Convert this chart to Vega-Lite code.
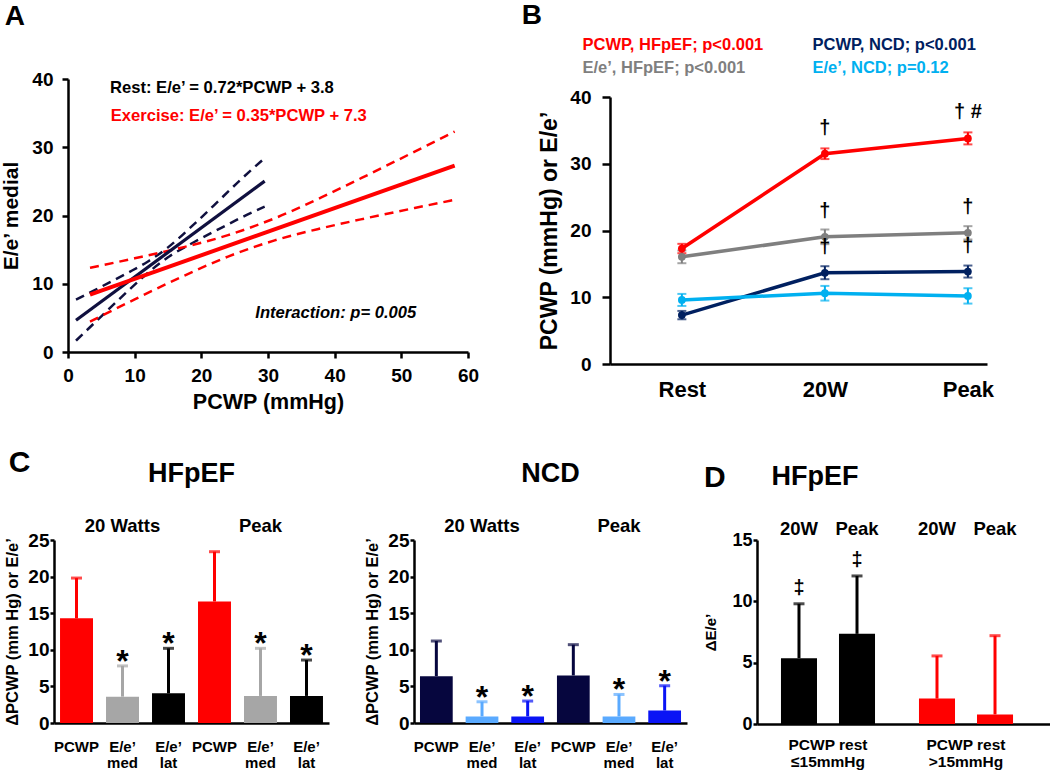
{
  "$schema": "https://vega.github.io/schema/vega-lite/v6.json",
  "background": "white",
  "padding": {"left": 0, "top": 2, "right": 0, "bottom": 0},
  "config": {
    "view": {"stroke": null},
    "font": "Liberation Sans",
    "axis": {"grid": false, "domainColor": "black", "tickColor": "black", "labelColor": "black", "titleColor": "black", "labelFont": "Liberation Sans", "titleFont": "Liberation Sans", "labelFontWeight": "bold", "titleFontWeight": "bold", "domainWidth": 2.5, "tickWidth": 2.5, "tickSize": 6, "labelOverlap": false, "labelFlush": false},
    "title": {"font": "Liberation Sans", "fontWeight": "bold", "fontSize": 30, "color": "black", "anchor": "start", "frame": "bounds"},
    "text": {"font": "Liberation Sans", "fontWeight": "bold"}
  },
  "datasets": {
    "panelA": [
      {"group": "Rest", "curve": "regression", "pcwp": 1.2, "ee": 4.66},
      {"group": "Rest", "curve": "regression", "pcwp": 29.5, "ee": 25.04},
      {"group": "Rest", "curve": "upper 95% CI", "pcwp": 1.2, "ee": 7.66},
      {"group": "Rest", "curve": "upper 95% CI", "pcwp": 5, "ee": 9.57},
      {"group": "Rest", "curve": "upper 95% CI", "pcwp": 9, "ee": 11.61},
      {"group": "Rest", "curve": "upper 95% CI", "pcwp": 12, "ee": 13.27},
      {"group": "Rest", "curve": "upper 95% CI", "pcwp": 15, "ee": 15.33},
      {"group": "Rest", "curve": "upper 95% CI", "pcwp": 19, "ee": 18.81},
      {"group": "Rest", "curve": "upper 95% CI", "pcwp": 23, "ee": 22.53},
      {"group": "Rest", "curve": "upper 95% CI", "pcwp": 26, "ee": 25.34},
      {"group": "Rest", "curve": "upper 95% CI", "pcwp": 29.5, "ee": 28.4},
      {"group": "Rest", "curve": "lower 95% CI", "pcwp": 1.2, "ee": 1.66},
      {"group": "Rest", "curve": "lower 95% CI", "pcwp": 5, "ee": 5.23},
      {"group": "Rest", "curve": "lower 95% CI", "pcwp": 9, "ee": 8.95},
      {"group": "Rest", "curve": "lower 95% CI", "pcwp": 12, "ee": 11.61},
      {"group": "Rest", "curve": "lower 95% CI", "pcwp": 15, "ee": 13.87},
      {"group": "Rest", "curve": "lower 95% CI", "pcwp": 19, "ee": 16.15},
      {"group": "Rest", "curve": "lower 95% CI", "pcwp": 23, "ee": 18.19},
      {"group": "Rest", "curve": "lower 95% CI", "pcwp": 26, "ee": 19.7},
      {"group": "Rest", "curve": "lower 95% CI", "pcwp": 29.5, "ee": 21.3},
      {"group": "Exercise", "curve": "regression", "pcwp": 3.3, "ee": 8.4},
      {"group": "Exercise", "curve": "regression", "pcwp": 58, "ee": 27.3},
      {"group": "Exercise", "curve": "upper 95% CI", "pcwp": 3.3, "ee": 12.34},
      {"group": "Exercise", "curve": "upper 95% CI", "pcwp": 10, "ee": 13.73},
      {"group": "Exercise", "curve": "upper 95% CI", "pcwp": 17, "ee": 15.28},
      {"group": "Exercise", "curve": "upper 95% CI", "pcwp": 24, "ee": 17.12},
      {"group": "Exercise", "curve": "upper 95% CI", "pcwp": 31, "ee": 19.59},
      {"group": "Exercise", "curve": "upper 95% CI", "pcwp": 38, "ee": 22.65},
      {"group": "Exercise", "curve": "upper 95% CI", "pcwp": 45, "ee": 25.96},
      {"group": "Exercise", "curve": "upper 95% CI", "pcwp": 52, "ee": 29.36},
      {"group": "Exercise", "curve": "upper 95% CI", "pcwp": 58, "ee": 32.3},
      {"group": "Exercise", "curve": "lower 95% CI", "pcwp": 3.3, "ee": 4.46},
      {"group": "Exercise", "curve": "lower 95% CI", "pcwp": 10, "ee": 7.71},
      {"group": "Exercise", "curve": "lower 95% CI", "pcwp": 17, "ee": 10.98},
      {"group": "Exercise", "curve": "lower 95% CI", "pcwp": 24, "ee": 13.98},
      {"group": "Exercise", "curve": "lower 95% CI", "pcwp": 31, "ee": 16.35},
      {"group": "Exercise", "curve": "lower 95% CI", "pcwp": 38, "ee": 18.13},
      {"group": "Exercise", "curve": "lower 95% CI", "pcwp": 45, "ee": 19.66},
      {"group": "Exercise", "curve": "lower 95% CI", "pcwp": 52, "ee": 21.1},
      {"group": "Exercise", "curve": "lower 95% CI", "pcwp": 58, "ee": 22.3}
    ],
    "panelB": [
      {"series": "PCWP, HFpEF; p<0.001", "stage": "Rest", "mean": 17.3, "lo": 16.6, "hi": 18.0, "sig": ""},
      {"series": "PCWP, HFpEF; p<0.001", "stage": "20W", "mean": 31.5, "lo": 30.7, "hi": 32.3, "sig": "†"},
      {"series": "PCWP, HFpEF; p<0.001", "stage": "Peak", "mean": 33.8, "lo": 32.9, "hi": 34.7, "sig": "†   #"},
      {"series": "E/e’, HFpEF; p<0.001", "stage": "Rest", "mean": 16.06, "lo": 15.1, "hi": 17.0, "sig": ""},
      {"series": "E/e’, HFpEF; p<0.001", "stage": "20W", "mean": 19.05, "lo": 17.95, "hi": 20.15, "sig": "†"},
      {"series": "E/e’, HFpEF; p<0.001", "stage": "Peak", "mean": 19.65, "lo": 18.65, "hi": 20.65, "sig": "†"},
      {"series": "PCWP, NCD; p<0.001", "stage": "Rest", "mean": 7.33, "lo": 6.7, "hi": 7.95, "sig": ""},
      {"series": "PCWP, NCD; p<0.001", "stage": "20W", "mean": 13.67, "lo": 12.7, "hi": 14.65, "sig": "†"},
      {"series": "PCWP, NCD; p<0.001", "stage": "Peak", "mean": 13.85, "lo": 12.95, "hi": 14.75, "sig": "†"},
      {"series": "E/e’, NCD; p=0.12", "stage": "Rest", "mean": 9.6, "lo": 8.7, "hi": 10.5, "sig": ""},
      {"series": "E/e’, NCD; p=0.12", "stage": "20W", "mean": 10.6, "lo": 9.5, "hi": 11.7, "sig": ""},
      {"series": "E/e’, NCD; p=0.12", "stage": "Peak", "mean": 10.2, "lo": 9.05, "hi": 11.35, "sig": ""}
    ],
    "panelC_HFpEF": [
      {"bar": "20 Watts|PCWP", "measure": "PCWP", "value": 14.3, "hi": 19.8, "sig": ""},
      {"bar": "20 Watts|E/e’ med", "measure": "E/e’ med", "value": 3.6, "hi": 7.8, "sig": "*"},
      {"bar": "20 Watts|E/e’ lat", "measure": "E/e’ lat", "value": 4.05, "hi": 10.2, "sig": "*"},
      {"bar": "Peak|PCWP", "measure": "PCWP", "value": 16.6, "hi": 23.4, "sig": ""},
      {"bar": "Peak|E/e’ med", "measure": "E/e’ med", "value": 3.7, "hi": 10.2, "sig": "*"},
      {"bar": "Peak|E/e’ lat", "measure": "E/e’ lat", "value": 3.7, "hi": 8.6, "sig": "*"}
    ],
    "panelC_NCD": [
      {"bar": "20 Watts|PCWP", "measure": "PCWP", "value": 6.4, "hi": 11.2, "sig": ""},
      {"bar": "20 Watts|E/e’ med", "measure": "E/e’ med", "value": 0.9, "hi": 2.9, "sig": "*"},
      {"bar": "20 Watts|E/e’ lat", "measure": "E/e’ lat", "value": 0.9, "hi": 3.0, "sig": "*"},
      {"bar": "Peak|PCWP", "measure": "PCWP", "value": 6.5, "hi": 10.7, "sig": ""},
      {"bar": "Peak|E/e’ med", "measure": "E/e’ med", "value": 0.9, "hi": 3.9, "sig": "*"},
      {"bar": "Peak|E/e’ lat", "measure": "E/e’ lat", "value": 1.7, "hi": 5.1, "sig": "*"}
    ],
    "panelD": [
      {"group": "PCWP rest|≤15mmHg", "time": "20W", "value": 5.37, "hi": 9.8, "sig": "‡"},
      {"group": "PCWP rest|≤15mmHg", "time": "Peak", "value": 7.35, "hi": 12.07, "sig": "‡"},
      {"group": "PCWP rest|>15mmHg", "time": "20W", "value": 2.07, "hi": 5.55, "sig": ""},
      {"group": "PCWP rest|>15mmHg", "time": "Peak", "value": 0.78, "hi": 7.2, "sig": ""}
    ]
  },
  "resolve": {"scale": {"x": "independent", "y": "independent", "color": "independent"}, "legend": {"color": "independent"}},
  "spacing": 35,
  "vconcat": [
    {
      "spacing": 42,
      "resolve": {"scale": {"x": "independent", "y": "independent", "color": "independent"}, "legend": {"color": "independent"}},
      "hconcat": [
        {
          "width": 414,
          "height": 273,
          "title": {"text": "A", "offset": 39, "dx": 4, "fontSize": 28},
          "layer": [
            {
              "data": {"name": "panelA"},
              "transform": [{"filter": "datum.curve !== 'regression'"}],
              "mark": {"type": "line", "strokeWidth": 2.5, "strokeDash": [9, 6], "interpolate": "monotone"},
              "encoding": {
                "x": {"field": "pcwp", "type": "quantitative", "title": "PCWP (mmHg)", "scale": {"domain": [0, 60], "rangeMin": 14, "nice": false}, "axis": {"values": [0, 10, 20, 30, 40, 50, 60], "labelFontSize": 19, "titleFontSize": 21.5, "labelPadding": 8, "titlePadding": 6}},
                "y": {"field": "ee", "type": "quantitative", "title": "E/e’ medial", "scale": {"domain": [0, 40], "nice": false}, "axis": {"values": [0, 10, 20, 30, 40], "offset": -14, "labelFontSize": 19, "titleFontSize": 21, "labelPadding": 9, "titlePadding": 10}},
                "color": {"field": "group", "type": "nominal", "scale": {"domain": ["Rest", "Exercise"], "range": ["#10103f", "#ff0000"]}, "legend": null},
                "detail": {"field": "curve"}
              }
            },
            {
              "data": {"name": "panelA"},
              "transform": [{"filter": "datum.curve === 'regression' && datum.group === 'Rest'"}],
              "mark": {"type": "line", "strokeWidth": 3.2},
              "encoding": {
                "x": {"field": "pcwp", "type": "quantitative"},
                "y": {"field": "ee", "type": "quantitative"},
                "color": {"field": "group", "type": "nominal", "legend": null}
              }
            },
            {
              "data": {"name": "panelA"},
              "transform": [{"filter": "datum.curve === 'regression' && datum.group === 'Exercise'"}],
              "mark": {"type": "line", "strokeWidth": 4},
              "encoding": {
                "x": {"field": "pcwp", "type": "quantitative"},
                "y": {"field": "ee", "type": "quantitative"},
                "color": {"field": "group", "type": "nominal", "legend": null}
              }
            },
            {
              "data": {"values": [{}]},
              "mark": {"type": "text", "text": "Rest: E/e’ = 0.72*PCWP + 3.8", "align": "left", "baseline": "middle", "fontSize": 16.6, "color": "black"},
              "encoding": {"x": {"datum": 6.3}, "y": {"datum": 38.7}}
            },
            {
              "data": {"values": [{}]},
              "mark": {"type": "text", "text": "Exercise: E/e’ = 0.35*PCWP + 7.3", "align": "left", "baseline": "middle", "fontSize": 16.6, "color": "#ff0000"},
              "encoding": {"x": {"datum": 6.4}, "y": {"datum": 34.6}}
            },
            {
              "data": {"values": [{}]},
              "mark": {"type": "text", "text": "Interaction: p= 0.005", "align": "left", "baseline": "middle", "fontSize": 16.6, "fontStyle": "italic", "color": "black"},
              "encoding": {"x": {"datum": 28.1}, "y": {"datum": 5.7}}
            }
          ]
        },
        {
          "width": 377,
          "height": 285,
          "title": {"text": "B", "offset": 7, "dx": -17, "fontSize": 28},
          "data": {"name": "panelB"},
          "encoding": {
            "x": {"field": "stage", "type": "nominal", "title": null, "scale": {"type": "point", "domain": ["Rest", "20W", "Peak"], "padding": 0.318, "align": 0.79}, "axis": {"labelAngle": 0, "labelFontSize": 22, "ticks": false, "labelPadding": 15.5}},
            "color": {
              "field": "series", "type": "nominal",
              "scale": {"domain": ["PCWP, HFpEF; p<0.001", "E/e’, HFpEF; p<0.001", "PCWP, NCD; p<0.001", "E/e’, NCD; p=0.12"], "range": ["#ff0000", "#7f7f7f", "#002060", "#00b0f0"]},
              "legend": {
                "title": null, "orient": "none", "legendX": -44, "legendY": -42, "columns": 2, "columnPadding": 32, "rowPadding": 6,
                "symbolSize": 0, "symbolOpacity": 0, "symbolStrokeWidth": 0, "labelOffset": 0, "labelFontSize": 16.5, "labelFont": "Liberation Sans", "labelFontWeight": "bold", "labelLimit": 400,
                "encode": {"labels": {"update": {"fill": {"signal": "datum.value == 'PCWP, HFpEF; p<0.001' ? '#ff0000' : datum.value == 'PCWP, NCD; p<0.001' ? '#002060' : datum.value == 'E/e’, HFpEF; p<0.001' ? '#7f7f7f' : '#00b0f0'"}}}}
              }
            }
          },
          "layer": [
            {
              "mark": {"type": "line", "strokeWidth": 3.5},
              "encoding": {"y": {"field": "mean", "type": "quantitative", "title": "PCWP (mmHg) or E/e’", "scale": {"domain": [0, 40], "nice": false, "rangeMax": 18}, "axis": {"values": [0, 10, 20, 30, 40], "labelFontSize": 19, "titleFontSize": 23, "tickSize": 8, "labelPadding": 11, "titlePadding": 8}}}
            },
            {
              "mark": {"type": "rule", "strokeWidth": 2},
              "encoding": {"y": {"field": "lo", "type": "quantitative"}, "y2": {"field": "hi"}}
            },
            {
              "mark": {"type": "tick", "thickness": 2, "size": 9},
              "encoding": {"y": {"field": "lo", "type": "quantitative"}}
            },
            {
              "mark": {"type": "tick", "thickness": 2, "size": 9},
              "encoding": {"y": {"field": "hi", "type": "quantitative"}}
            },
            {
              "mark": {"type": "point", "filled": true, "size": 60, "opacity": 1},
              "encoding": {"y": {"field": "mean", "type": "quantitative"}}
            },
            {
              "mark": {"type": "text", "fontSize": 20, "dy": -26, "baseline": "middle"},
              "encoding": {"y": {"field": "mean", "type": "quantitative"}, "text": {"field": "sig"}, "color": {"value": "black"}}
            }
          ]
        }
      ]
    },
    {
      "spacing": 16,
      "resolve": {"scale": {"x": "independent", "y": "independent", "color": "independent"}, "legend": {"color": "independent"}},
      "hconcat": [
        {
          "spacing": 35,
          "resolve": {"scale": {"x": "independent", "y": "independent", "color": "independent"}, "legend": {"color": "independent"}},
          "hconcat": [
            {
              "width": 275,
              "height": 183,
              "title": {"text": "C", "offset": -18, "dx": 4},
              "data": {"name": "panelC_HFpEF"},
              "encoding": {
                "x": {"field": "bar", "type": "nominal", "title": null, "scale": {"domain": ["20 Watts|PCWP", "20 Watts|E/e’ med", "20 Watts|E/e’ lat", "Peak|PCWP", "Peak|E/e’ med", "Peak|E/e’ lat"], "paddingInner": 0.283, "paddingOuter": 0.131}, "axis": {"labelAngle": 0, "ticks": false, "labelFontSize": 15, "labelLineHeight": 16.5, "labelPadding": 16, "labelExpr": "split(split(datum.value, '|')[1], ' ')"}}
              },
              "layer": [
                {
                  "encoding": {
                    "y": {"field": "value", "type": "quantitative", "title": "ΔPCWP (mm Hg) or E/e’", "scale": {"domain": [0, 25], "nice": false}, "axis": {"values": [0, 5, 10, 15, 20, 25], "labelOverlap": false, "labelFontSize": 19, "titleFontSize": 16.5, "tickSize": 4, "labelPadding": 1, "titlePadding": 7}}
                  },
                  "layer": [
                    {
                      "mark": {"type": "bar"},
                      "encoding": {"color": {"field": "measure", "type": "nominal", "scale": {"domain": ["PCWP", "E/e’ med", "E/e’ lat"], "range": ["#ff0000", "#a6a6a6", "#000000"]}, "legend": null}}
                    },
                    {
                      "mark": {"type": "rule", "strokeWidth": 3},
                      "encoding": {"y2": {"field": "hi"}, "color": {"field": "measure", "type": "nominal", "legend": null}}
                    },
                    {
                      "mark": {"type": "tick", "thickness": 3, "size": 11},
                      "encoding": {"y": {"field": "hi", "type": "quantitative"}, "color": {"field": "measure", "type": "nominal", "legend": null}}
                    },
                    {
                      "mark": {"type": "text", "fontSize": 32, "baseline": "middle", "dy": -4, "color": "black"},
                      "encoding": {"y": {"field": "hi", "type": "quantitative"}, "text": {"field": "sig"}}
                    }
                  ]
                },
                {
                  "data": {"values": [{"bar": "20 Watts|E/e’ med", "label": "20 Watts"}, {"bar": "Peak|E/e’ med", "label": "Peak"}]},
                  "mark": {"type": "text", "fontSize": 18.5, "baseline": "middle", "color": "black"},
                  "encoding": {"y": {"datum": 26.9, "type": "quantitative", "title": "ΔPCWP (mm Hg) or E/e’", "axis": {"values": [0, 5, 10, 15, 20, 25], "labelOverlap": false, "labelFontSize": 19, "titleFontSize": 16.5, "tickSize": 4, "labelPadding": 1, "titlePadding": 7}}, "text": {"field": "label"}}
                },
                {
                  "data": {"values": [{}]},
                  "mark": {"type": "text", "text": "HFpEF", "fontSize": 27, "dx": 23, "baseline": "middle", "color": "black"},
                  "encoding": {"x": {"datum": "20 Watts|E/e’ lat"}, "y": {"datum": 34, "type": "quantitative", "title": "ΔPCWP (mm Hg) or E/e’", "axis": {"values": [0, 5, 10, 15, 20, 25], "labelOverlap": false, "labelFontSize": 19, "titleFontSize": 16.5, "tickSize": 4, "labelPadding": 1, "titlePadding": 7}}}
                }
              ]
            },
            {
              "width": 273,
              "height": 183,
              "title": {"text": "NCD", "anchor": "middle", "frame": "group", "fontSize": 27, "offset": 29},
              "data": {"name": "panelC_NCD"},
              "encoding": {
                "x": {"field": "bar", "type": "nominal", "title": null, "scale": {"domain": ["20 Watts|PCWP", "20 Watts|E/e’ med", "20 Watts|E/e’ lat", "Peak|PCWP", "Peak|E/e’ med", "Peak|E/e’ lat"], "paddingInner": 0.283, "paddingOuter": 0.131}, "axis": {"labelAngle": 0, "ticks": false, "labelFontSize": 15, "labelLineHeight": 16.5, "labelPadding": 16, "labelExpr": "split(split(datum.value, '|')[1], ' ')"}}
              },
              "layer": [
                {
                  "encoding": {
                    "y": {"field": "value", "type": "quantitative", "title": "ΔPCWP (mm Hg) or E/e’", "scale": {"domain": [0, 25], "nice": false}, "axis": {"values": [0, 5, 10, 15, 20, 25], "labelOverlap": false, "labelFontSize": 19, "titleFontSize": 16.5, "tickSize": 4, "labelPadding": 1, "titlePadding": 7}}
                  },
                  "layer": [
                    {
                      "mark": {"type": "bar"},
                      "encoding": {"color": {"field": "measure", "type": "nominal", "scale": {"domain": ["PCWP", "E/e’ med", "E/e’ lat"], "range": ["#06063e", "#5aaaff", "#0a14f5"]}, "legend": null}}
                    },
                    {
                      "mark": {"type": "rule", "strokeWidth": 3},
                      "encoding": {"y2": {"field": "hi"}, "color": {"field": "measure", "type": "nominal", "legend": null}}
                    },
                    {
                      "mark": {"type": "tick", "thickness": 3, "size": 11},
                      "encoding": {"y": {"field": "hi", "type": "quantitative"}, "color": {"field": "measure", "type": "nominal", "legend": null}}
                    },
                    {
                      "mark": {"type": "text", "fontSize": 32, "baseline": "middle", "dy": -4, "color": "black"},
                      "encoding": {"y": {"field": "hi", "type": "quantitative"}, "text": {"field": "sig"}}
                    }
                  ]
                },
                {
                  "data": {"values": [{"bar": "20 Watts|E/e’ med", "label": "20 Watts"}, {"bar": "Peak|E/e’ med", "label": "Peak"}]},
                  "mark": {"type": "text", "fontSize": 18.5, "baseline": "middle", "color": "black"},
                  "encoding": {"y": {"datum": 26.9, "type": "quantitative", "title": "ΔPCWP (mm Hg) or E/e’", "axis": {"values": [0, 5, 10, 15, 20, 25], "labelOverlap": false, "labelFontSize": 19, "titleFontSize": 16.5, "tickSize": 4, "labelPadding": 1, "titlePadding": 7}}, "text": {"field": "label"}}
                }
              ]
            }
          ]
        },
        {
          "width": 297,
          "height": 184,
          "title": {"text": "D", "offset": -30},
          "data": {"name": "panelD"},
          "encoding": {
            "x": {"field": "group", "type": "nominal", "title": null, "scale": {"domain": ["PCWP rest|≤15mmHg", "PCWP rest|>15mmHg"], "paddingInner": 0.2, "paddingOuter": 0.176, "align": 0.325}, "axis": {"labelAngle": 0, "ticks": false, "labelFontSize": 15.5, "labelLineHeight": 17, "labelPadding": 13, "labelExpr": "split(datum.value, '|')"}},
            "xOffset": {"field": "time", "type": "nominal", "scale": {"domain": ["20W", "Peak"], "paddingInner": 0.379, "paddingOuter": 0.141}}
          },
          "layer": [
            {
              "encoding": {
                "y": {"field": "value", "type": "quantitative", "title": "ΔE/e’", "scale": {"domain": [0, 15], "nice": false}, "axis": {"values": [0, 5, 10, 15], "labelOverlap": false, "labelFontSize": 18, "titleFontSize": 15, "tickSize": 4, "labelPadding": 1, "titlePadding": 13}}
              },
              "layer": [
                {
                  "mark": {"type": "bar"},
                  "encoding": {"color": {"field": "group", "type": "nominal", "scale": {"domain": ["PCWP rest|≤15mmHg", "PCWP rest|>15mmHg"], "range": ["#000000", "#ff0000"]}, "legend": null}}
                },
                {
                  "mark": {"type": "rule", "strokeWidth": 3},
                  "encoding": {"y2": {"field": "hi"}, "color": {"field": "group", "type": "nominal", "legend": null}}
                },
                {
                  "mark": {"type": "tick", "thickness": 3, "size": 11},
                  "encoding": {"y": {"field": "hi", "type": "quantitative"}, "color": {"field": "group", "type": "nominal", "legend": null}}
                },
                {
                  "mark": {"type": "text", "fontSize": 20, "baseline": "middle", "dy": -16, "color": "black"},
                  "encoding": {"y": {"field": "hi", "type": "quantitative"}, "text": {"field": "sig"}}
                }
              ]
            },
            {
              "mark": {"type": "text", "fontSize": 18.5, "baseline": "middle", "color": "black"},
              "encoding": {"y": {"datum": 15.9, "type": "quantitative", "title": "ΔE/e’", "axis": {"values": [0, 5, 10, 15], "labelOverlap": false, "labelFontSize": 18, "titleFontSize": 15, "tickSize": 4, "labelPadding": 1, "titlePadding": 13}}, "text": {"field": "time"}}
            },
            {
              "data": {"values": [{}]},
              "mark": {"type": "text", "text": "HFpEF", "fontSize": 27, "dx": 58, "baseline": "middle", "color": "black"},
              "encoding": {"x": {"datum": "PCWP rest|≤15mmHg"}, "y": {"datum": 20.1, "type": "quantitative", "title": "ΔE/e’", "axis": {"values": [0, 5, 10, 15], "labelOverlap": false, "labelFontSize": 18, "titleFontSize": 15, "tickSize": 4, "labelPadding": 1, "titlePadding": 13}}}
            }
          ]
        }
      ]
    }
  ]
}
